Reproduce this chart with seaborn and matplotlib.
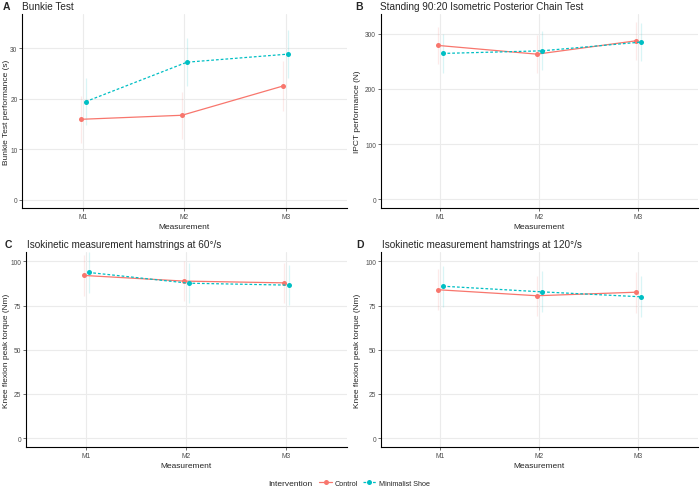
import numpy as np
import pandas as pd
import matplotlib
matplotlib.use("Agg")
from matplotlib import pyplot as plt
import seaborn as sns

measurements = ["M1", "M2", "M3"]
groups = ["Control", "Minimalist Shoe"]

bunkie_control = [15.9, 16.7, 22.5]
bunkie_minimal = [19.4, 27.2, 28.8]
bunkie_control_sd = [4.6, 4.6, 5.0]
bunkie_minimal_sd = [4.6, 4.7, 4.8]

ipct_control = [278.5, 262.7, 286.8]
ipct_minimal = [264.0, 268.7, 284.5]
ipct_control_sd = [33.0, 34.0, 34.0]
ipct_minimal_sd = [35.0, 35.0, 34.0]

iso60_control = [92.1, 88.9, 87.9]
iso60_minimal = [93.8, 87.7, 86.6]
iso60_control_sd = [11.5, 11.3, 11.5]
iso60_minimal_sd = [11.6, 11.4, 11.4]

iso120_control = [84.0, 80.6, 82.6]
iso120_minimal = [86.0, 82.8, 80.0]
iso120_control_sd = [11.6, 11.4, 11.5]
iso120_minimal_sd = [11.5, 11.6, 11.5]

panels = [
    ("A", "Bunkie Test", "Bunkie Test performance (s)",
     bunkie_control, bunkie_minimal, bunkie_control_sd, bunkie_minimal_sd,
     [0, 10, 20, 30], (-1.7, 36.7)),
    ("B", "Standing 90:20 Isometric Posterior Chain Test", "IPCT performance (N)",
     ipct_control, ipct_minimal, ipct_control_sd, ipct_minimal_sd,
     [0, 100, 200, 300], (-16, 335)),
    ("C", "Isokinetic measurement hamstrings at 60°/s", "Knee flexion peak torque (Nm)",
     iso60_control, iso60_minimal, iso60_control_sd, iso60_minimal_sd,
     [0, 25, 50, 75, 100], (-5.3, 105.2)),
    ("D", "Isokinetic measurement hamstrings at 120°/s", "Knee flexion peak torque (Nm)",
     iso120_control, iso120_minimal, iso120_control_sd, iso120_minimal_sd,
     [0, 25, 50, 75, 100], (-5.3, 105.2)),
]

colors = {"Control": "#F8766D", "Minimalist Shoe": "#00BFC4"}
dodge = {"Control": -0.025, "Minimalist Shoe": 0.025}

sns.set_theme(style="white")
plt.rcParams["font.family"] = ["Liberation Sans", "DejaVu Sans"]

fig = plt.figure(figsize=(7, 4.89), dpi=100)

# axes boxes in figure fractions: left, bottom, width, height
boxes = [
    (0.032, 0.572, 0.463, 0.397),
    (0.544, 0.572, 0.453, 0.397),
    (0.037, 0.083, 0.458, 0.399),
    (0.544, 0.083, 0.453, 0.399),
]
label_x = [0.004, 0.507, 0.006, 0.509]
title_x = [0.032, 0.543, 0.038, 0.545]
ylab_x = [0.014, 0.516, 0.014, 0.516]

for i, (tag, title, ylab, ctrl, mini, ctrl_sd, mini_sd, yticks, ylim) in enumerate(panels):
    ax = fig.add_axes(boxes[i])
    rows = []
    for g, vals, sds in [("Control", ctrl, ctrl_sd), ("Minimalist Shoe", mini, mini_sd)]:
        for j, m in enumerate(measurements):
            rows.append({"Measurement": m, "pos": j + 1 + dodge[g],
                         "value": vals[j], "sd": sds[j], "Intervention": g})
    df = pd.DataFrame(rows)

    ax.grid(True, color="#EBEBEB", linewidth=0.8)
    ax.set_axisbelow(True)

    for g in groups:
        sub = df[df["Intervention"] == g]
        ax.vlines(sub["pos"], sub["value"] - sub["sd"], sub["value"] + sub["sd"],
                  color=colors[g], alpha=0.15, linewidth=0.9, zorder=2)

    sns.lineplot(data=df, x="pos", y="value", hue="Intervention", style="Intervention",
                 palette=colors, dashes={"Control": "", "Minimalist Shoe": (2.2, 1.6)},
                 markers={"Control": "o", "Minimalist Shoe": "o"}, markersize=3.6,
                 markeredgewidth=0, linewidth=0.9, ax=ax, legend=False, zorder=3)

    ax.set_xlim(0.4, 3.6)
    ax.set_ylim(*ylim)
    ax.set_xticks([1, 2, 3])
    ax.set_xticklabels(measurements)
    ax.set_yticks(yticks)
    ax.tick_params(axis="both", labelsize=4.8, labelcolor="#4D4D4D", length=2,
                   width=0.5, color="#333333", pad=1.5, left=True, bottom=True)
    ax.set_xlabel("Measurement", fontsize=6, labelpad=2)
    ax.set_ylabel(ylab, fontsize=6)
    ax.yaxis.set_label_coords(ylab_x[i], boxes[i][1] + boxes[i][3] / 2,
                              transform=fig.transFigure)
    for s in ["top", "right"]:
        ax.spines[s].set_visible(False)
    for s in ["left", "bottom"]:
        ax.spines[s].set_color("black")
        ax.spines[s].set_linewidth(0.8)

    top = boxes[i][1] + boxes[i][3] + 0.016
    fig.text(label_x[i], top, tag, fontsize=7.5, fontweight="bold", va="center")
    fig.text(title_x[i], top, title, fontsize=7.2, va="center")

handles = [plt.Line2D([], [], color=colors["Control"], marker="o", markersize=3.6,
                      markeredgewidth=0, linewidth=0.9),
           plt.Line2D([], [], color=colors["Minimalist Shoe"], marker="o", markersize=3.6,
                      markeredgewidth=0, linewidth=0.9, dashes=(2.2, 1.6))]
fig.text(0.447, 0.01, "Intervention", fontsize=6, ha="right", va="center")
fig.legend(handles, groups, loc="center left", bbox_to_anchor=(0.456, 0.01), ncol=2,
           frameon=False, fontsize=5.2, handlelength=1.8, handletextpad=0.4,
           columnspacing=0.6, borderaxespad=0, borderpad=0)

fig.savefig("out.png", dpi=100)
